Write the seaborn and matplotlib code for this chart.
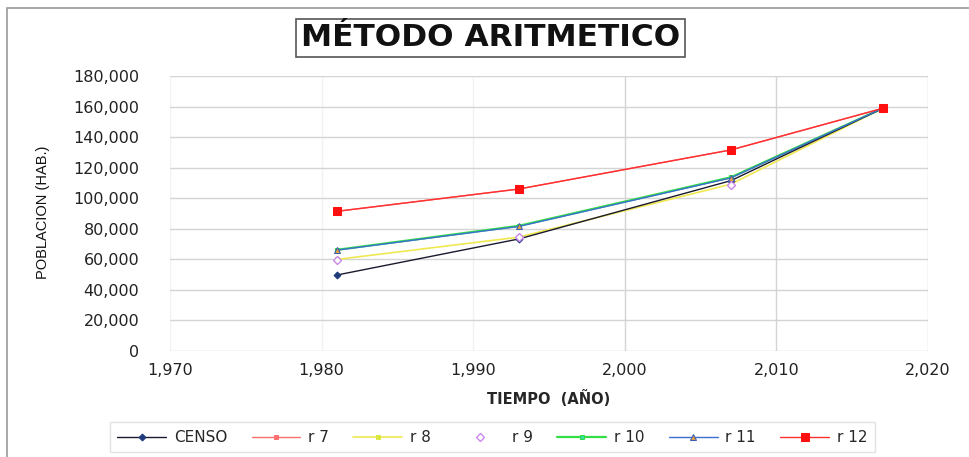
import matplotlib
matplotlib.use("Agg")
import matplotlib.pyplot as plt
import matplotlib.ticker as mticker
from matplotlib.patches import Rectangle
import seaborn as sns
import pandas as pd

# Census years and projected population per growth-rate assumption
years = [1981, 1993, 2007, 2017]
censo = [49700, 73300, 111500, 158800]
r7 = [91400, 106000, 131600, 158800]
r8 = [59900, 74500, 109200, 158800]
r9 = [59800, 74400, 108700, 158800]
r10 = [66200, 81900, 113700, 158800]
r11 = [66000, 81500, 113300, 158800]
r12 = [91400, 106000, 131600, 158800]

series_names = ["CENSO", "r 7", "r 8", "r 9", "r 10", "r 11", "r 12"]
series_values = [censo, r7, r8, r9, r10, r11, r12]

x_ticks = [1970, 1980, 1990, 2000, 2010, 2020]
y_ticks = list(range(0, 180001, 20000))

sns.set_theme(style="white")
plt.rcParams["font.family"] = ["DejaVu Sans"]

styles = {
    "CENSO": dict(color="#1a1a2e", lw=1.0, marker="D", ms=3.5, mfc="#1f3a7a", mec="#1f3a7a", zorder=4),
    "r 7": dict(color="#ff7070", lw=1.0, marker="s", ms=2.5, mfc="#ff7070", mec="#ff7070", zorder=3),
    "r 8": dict(color="#f0e850", lw=1.2, marker="s", ms=2.5, mfc="#d8e840", mec="#d8e840", zorder=3),
    "r 9": dict(color="#cc88ee", ls="None", marker="D", ms=4.5, mfc="white", mec="#cc88ee", mew=1.0, zorder=5),
    "r 10": dict(color="#33dd44", lw=1.6, marker="s", ms=3.5, mfc="#33ddaa", mec="#33dd44", zorder=3),
    "r 11": dict(color="#3a6fd0", lw=1.0, marker="^", ms=4.5, mfc="#e8a040", mec="#3a5fb0", zorder=4),
    "r 12": dict(color="#ff3030", lw=1.0, marker="s", ms=6, mfc="#ff1010", mec="#ff1010", zorder=6),
}

fig = plt.figure(figsize=(9.69, 4.57), dpi=100)
ax = fig.add_axes([0.1754, 0.232, 0.7823, 0.6017])

for name, vals in zip(series_names, series_values):
    df = pd.DataFrame({"anio": years, "poblacion": vals})
    sns.lineplot(data=df, x="anio", y="poblacion", ax=ax, label=name, **styles[name])

ax.set_xlim(1970, 2020)
ax.set_ylim(0, 180000)
ax.set_xticks(x_ticks)
ax.set_yticks(y_ticks)
fmt = mticker.FuncFormatter(lambda v, p: f"{int(v):,}")
ax.xaxis.set_major_formatter(fmt)
ax.yaxis.set_major_formatter(fmt)
ax.tick_params(axis="both", labelsize=11.5, colors="#222222", length=0)
ax.tick_params(axis="y", pad=22)
ax.tick_params(axis="x", pad=9)
for t in ax.get_xticklabels() + ax.get_yticklabels():
    t.set_color("#222222")

ax.grid(True, axis="y", color="#d4d4d4", lw=1.0)
ax.grid(True, axis="x", color="#d4d4d4", lw=1.0)
for i, gl in enumerate(ax.get_xgridlines()):
    if i < 3:
        gl.set_color("#f2f2f2")
for s in ax.spines.values():
    s.set_visible(False)

ax.set_xlabel("TIEMPO  (AÑO)", fontsize=10.5, fontweight="bold", labelpad=8)
ax.set_ylabel("POBLACION (HAB.)", fontsize=10.5, family=["Liberation Sans"], color="#111111")
ax.yaxis.set_label_coords(-0.158, 0.505)

fig.text(0.506, 0.917, "MÉTODO ARITMETICO", ha="center", va="center",
         fontsize=22.5, fontweight="bold", color="#111111",
         bbox=dict(boxstyle="square,pad=0.15", fc="white", ec="#555555", lw=1.2))

# outer chart border
fig.patches.append(Rectangle((7 / 969, -0.05), 1.2, 1 - 8 / 457 + 0.05,
                             transform=fig.transFigure, fill=False,
                             ec="#9a9a9a", lw=1.2))

leg = ax.legend(loc="center", bbox_to_anchor=(0.508, 0.043), bbox_transform=fig.transFigure,
                ncol=7, frameon=True, fontsize=11, handlelength=3.2, columnspacing=1.6,
                handletextpad=0.5, borderpad=0.5, fancybox=False)
leg.get_frame().set_edgecolor("#dddddd")
leg.get_frame().set_linewidth(1.0)

fig.savefig("out.png", dpi=100)
